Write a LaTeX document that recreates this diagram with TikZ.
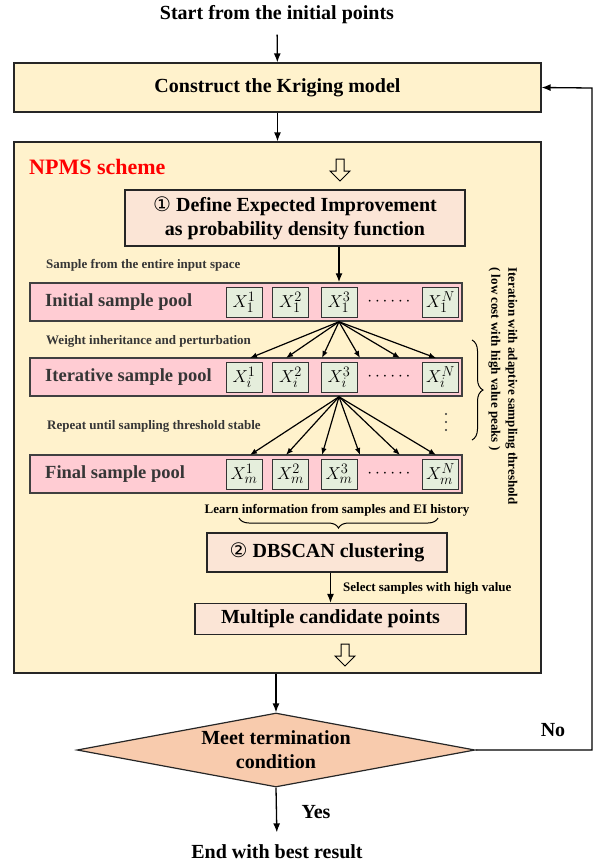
\documentclass[tikz,border=0pt]{standalone}
\usepackage{fontspec}
\setmainfont{Liberation Serif}
\newfontfamily\circfont{DejaVu Sans}
\usetikzlibrary{arrows.meta,shapes.geometric,shapes.arrows,decorations.pathreplacing}

\definecolor{krigfill}{HTML}{FFF2CC}
\definecolor{peachfill}{HTML}{FBE5D6}
\definecolor{poolfill}{HTML}{FFCCD3}
\definecolor{cellfill}{HTML}{E5EEDC}
\definecolor{condfill}{HTML}{F8CBAD}
\definecolor{darktext}{HTML}{363636}

\begin{document}
\begin{tikzpicture}[x=1pt,y=-1pt,
  >={Latex[length=9pt,width=7pt]},
  big/.style={font=\fontsize{20}{24}\selectfont\bfseries},
  note/.style={font=\fontsize{13}{17}\selectfont\bfseries, text=darktext, inner sep=1pt},
  frame/.style={draw=black!85, line width=1.2pt, inner sep=0pt, big},
  pool/.style={draw=black!75, line width=1.5pt, fill=poolfill, minimum width=432pt, minimum height=38pt, inner sep=0pt},
  poollabel/.style={font=\fontsize{18.5}{22}\selectfont\bfseries, text=darktext, inner sep=0pt},
  cell/.style={draw=black!80, line width=1pt, fill=cellfill, minimum width=36pt, minimum height=30pt, inner sep=0pt, font=\fontsize{19}{22}\selectfont},
  hollow/.style={single arrow, draw=black, line width=1pt, shape border rotate=270, minimum height=22pt, inner sep=3.5pt, single arrow head extend=6pt},
  fan/.style={line width=1.2pt, -{Latex[length=7pt,width=5.5pt]}},
  arr/.style={line width=1.3pt, ->},
  brace/.style={line width=1pt, decorate, decoration={brace, amplitude=11pt}}]

\useasboundingbox (0,0) rectangle (594,863);

% top of the loop
\node[big] (start) at (277,15) {Start from the initial points};
\node[frame, fill=krigfill, minimum width=527pt, minimum height=49pt] (krig) at (277.5,87.5) {Construct the Kriging model};
\draw[arr, shorten <=7pt] (start) -- (krig);

\node[frame, fill=krigfill, minimum width=527pt, minimum height=531pt] (npms) at (277.5,407.5) {};
\draw[arr] (krig) -- (npms);

\node[font=\fontsize{22}{26}\selectfont\bfseries, text=red, anchor=west, inner sep=0pt] (name) at (29,167) {NPMS scheme};
\node[hollow] (h1) at (340,168) {};

\node[frame, fill=peachfill, minimum width=340pt, minimum height=56pt, align=center] (ei) at (295,218)
  {{\circfont\mdseries ①} Define Expected Improvement\\as probability density function};

% the three sample pools
\foreach \py/\sub/\lbl [count=\k] in {302/1/Initial, 377/i/Iterative, 474/m/Final}{
  \node[pool] (p\k) at (246,\py) {};
  \node[poollabel, anchor=west] (l\k) at (45,\py) {\lbl\ sample pool};
  \foreach \cx/\sup [count=\j] in {244/1, 290.5/2, 339/3, 440.5/N}
    \node[cell] (c\k\j) at (\cx,\py) {$X_{\sub}^{\sup}$};
  \node[font=\fontsize{19}{22}\selectfont, inner sep=0pt] (d\k) at (389,\py) {$\cdots\cdots$};
}

\draw[arr] (ei.south -| c13) -- (p1.north -| c13);

\foreach \tx [count=\i] in {250,286,322,360,400,436}{
  \coordinate (ta\i) at (\tx,358);
  \coordinate (tb\i) at (\tx,455);
}
\foreach \i in {1,...,6}{
  \draw[fan] (p1.south -| c13) -- (ta\i);
  \draw[fan] (p2.south -| c23) -- (tb\i);
}

\node[note, anchor=west] (s1) at (45,265) {Sample from the entire input space};
\node[note, anchor=west] (s2) at (45,341) {Weight inheritance and perturbation};
\node[note, anchor=west] (s3) at (46,426) {Repeat until sampling threshold stable};
\foreach \dy in {414,422,430}
  \fill[darktext] (446,\dy) circle (1.1pt);

\coordinate (b1) at (472,340);
\coordinate (b2) at (472,440);
\draw[brace] (b1) -- (b2);
\node[note, text=black, rotate=-90, align=left] (iter) at (503,386)
  {Iteration with adaptive sampling threshold\\( low cost with high value peaks )};

% clustering part
\node[note, text=black] (learn) at (337,510) {Learn information from samples and EI history};
\coordinate (b3) at (239,518);
\coordinate (b4) at (438,518);
\draw[brace, decoration={mirror, amplitude=10pt}] (b3) -- (b4);

\node[frame, fill=peachfill, minimum width=240pt, minimum height=39pt] (db) at (327,552.5) {{\circfont\mdseries ②} DBSCAN clustering};
\node[frame, fill=peachfill, minimum width=271pt, minimum height=31pt] (mcp) at (330.5,619) {Multiple candidate points};
\draw[arr] (db.south -| mcp.north) -- (mcp.north);
\node[note, text=black, anchor=west] (sel) at (342,588) {Select samples with high value};
\node[hollow] (h2) at (345,653) {};

% termination check
\node[diamond, aspect=5.4, draw=black!85, line width=1.2pt, fill=condfill, minimum width=398pt, minimum height=74pt,
  inner sep=0pt, align=center, big] (cond) at (276,750) {Meet termination\\condition};
\draw[arr] (npms.south -| cond.north) -- (cond.north);

\coordinate (fb) at (592,88);
\draw[arr] (cond.east) -| (fb) -- (krig.east);
\node[big] (no) at (553,730) {No};

\node[big] (end) at (277,852) {End with best result};
\draw[arr, shorten >=9pt] (cond.south) -- (end.north);
\node[big, anchor=west] (yes) at (298,812) {Yes};

\end{tikzpicture}
\end{document}
